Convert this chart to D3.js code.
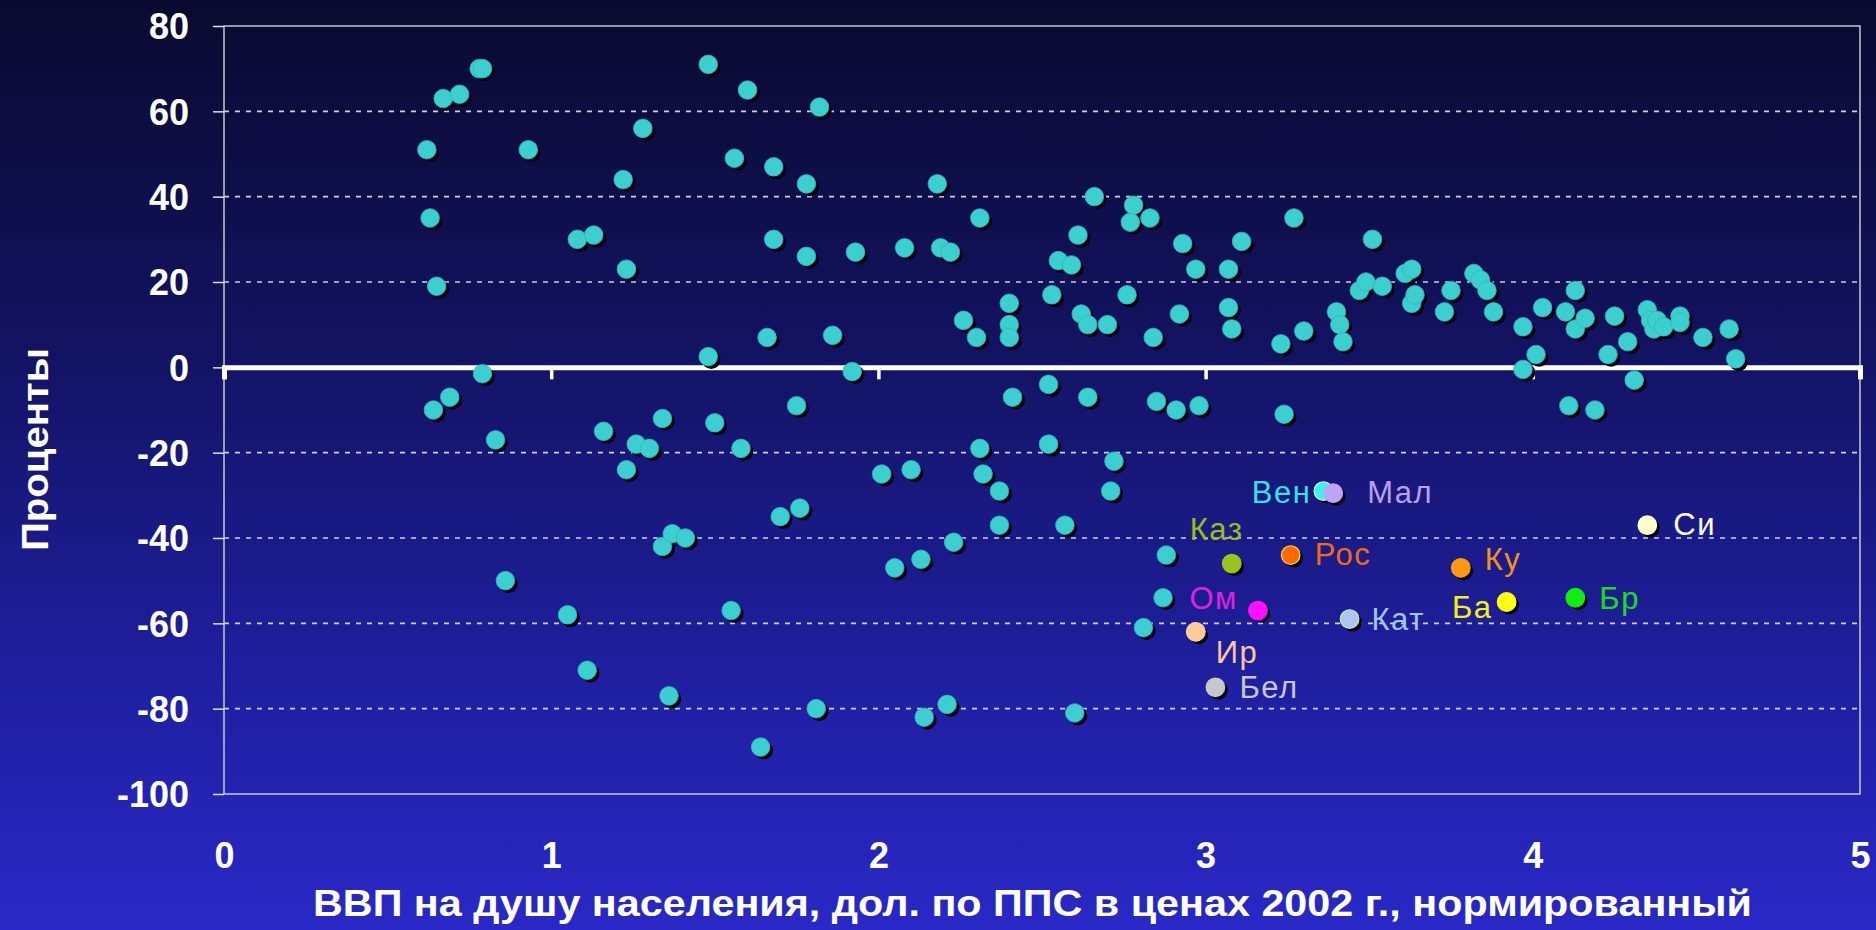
<!DOCTYPE html>
<html><head><meta charset="utf-8">
<script src="https://cdn.jsdelivr.net/npm/d3@7"></script>
<style>html,body{margin:0;padding:0;background:#0a0a33;overflow:hidden}</style>
</head><body>
<svg id="chart" width="1876" height="930"></svg>
<script>
// ---- data ----
const gdpX = [0.62,0.63,0.65,0.67,0.72,0.78,0.79,0.64,0.69,0.79,0.83,0.86,0.93,1.05,1.08,1.13,1.11,1.16,1.22,1.23,1.23,1.26,1.28,1.30,1.34,1.34,1.36,1.37,1.41,1.48,1.48,1.50,1.55,1.56,1.58,1.60,1.64,1.66,1.68,1.68,1.70,1.75,1.76,1.78,1.78,1.81,1.82,1.86,1.92,1.93,2.01,2.05,2.08,2.10,2.13,2.14,2.18,2.19,2.22,2.21,2.23,2.26,2.30,2.31,2.31,2.32,2.37,2.37,2.40,2.40,2.40,2.41,2.52,2.52,2.53,2.55,2.57,2.59,2.61,2.60,2.62,2.64,2.64,2.66,2.70,2.71,2.72,2.76,2.77,2.78,2.81,2.83,2.84,2.85,2.87,2.88,2.91,2.92,2.93,2.97,2.98,3.07,3.07,3.08,3.11,3.23,3.24,3.27,3.30,3.40,3.41,3.42,3.47,3.49,3.51,3.54,3.61,3.63,3.63,3.64,3.73,3.75,3.82,3.84,3.86,3.88,3.97,3.97,4.01,4.03,4.10,4.11,4.13,4.13,4.16,4.19,4.23,4.25,4.29,4.31,4.35,4.36,4.37,4.38,4.40,4.45,4.45,4.52,4.60,4.62];
const pctY = [51,35,19,63,64,70,70,-10,-7,-1.5,-17,-50,51,-58,30,31,-71,-15,44,23,-24,-18,56,-19,-12,-42,-77,-39,-40,71,2.5,-13,-57,49,-19,65,-89,7,47,30,-35,-9,-33,43,26,-80,61,7.5,-1,27,-25,-47,28,-24,-45,-82,43,28,27,-79,-41,11,7,35,-19,-25,-29,-37,15,10,7,-7,-4,-18,17,25,-37,24,31,-81,12.5,-7,10,40,10,-29,-22,17,34,38,-61,35,7,-8,-54,-44,-10,12.5,29,23,-9,14,23,9,29.5,5.5,-11,35,8.5,13,10,6,18,20,30,19,22,23,15,17,13,18,22,20.5,18,13,9.5,-0.5,3,14,13,-9,9,18,11.5,-10,3,12,6,-3,13.5,11,9,11,9.5,12,10.5,7,9,2];

const countryNames = ["Вен","Мал","Каз","Рос","Ом","Ир","Бел","Кат","Ку","Ба","Бр","Си"];
const countryX = [3.36,3.39,3.08,3.26,3.16,2.97,3.03,3.44,3.78,3.92,4.13,4.35];
const countryY = [-29,-29.5,-46,-44,-57,-62,-75,-59,-47,-55,-54,-37];

const xTicks = [0,1,2,3,4,5];
const yTicks = [80,60,40,20,0,-20,-40,-60,-80,-100];
const xTitle = "ВВП на душу населения, дол. по ППС в ценах 2002 г., нормированный";
const yTitle = "Проценты";

// ---- styles (not data) ----
const countryFill = ["#3ff0f0","#c0a4f4","#99c41c","#ff6a00","#ff10ff","#ffcc99","#c8c8c8","#a8c8f0","#ff9a10","#ffff10","#10ee10","#ffffd0"];
const countryStroke = ["#d0ffff","#c0a4f4","#99c41c","#ffd040","#ff10ff","#ffcc99","#c8c8c8","#c8f0a0","#ff9a10","#ffff10","#10ee10","#ffffd0"];
const labelColor = ["#33e4e4","#b8a0ec","#9cbc18","#f06a14","#e020e0","#f8c898","#c8c8c8","#a0c4ec","#f09418","#f4f010","#18e018","#ffffff"];
// label placement: [anchor, dx, dy]
const labelPlace = [["end",-12,12],["start",34,10],["start",-42,-24],["start",24,10],["end",-20,-2],["start",20,31],["start",24,11],["start",22,11],["start",24,2],["end",-14,16],["start",24,11],["start",26,10]];

// ---- chart ----
const W = 1876, H = 930;
const svg = d3.select("#chart");
const defs = svg.append("defs");
const grad = defs.append("linearGradient").attr("id","bg").attr("x1",0).attr("y1",0).attr("x2",0).attr("y2",1);
grad.append("stop").attr("offset","0%").attr("stop-color","#0a0a30");
grad.append("stop").attr("offset","35%").attr("stop-color","#12125e");
grad.append("stop").attr("offset","70%").attr("stop-color","#1e1e9c");
grad.append("stop").attr("offset","100%").attr("stop-color","#2a28c6");
svg.append("rect").attr("width",W).attr("height",H).attr("fill","url(#bg)");

const pL = 224, pR = 1860, pT = 26, pB = 794;
const x = d3.scaleLinear().domain([0,5]).range([pL,pR]);
const y = d3.scaleLinear().domain([-100,80]).range([pB,pT]);

// grid (dashed)
svg.append("g").selectAll("line").data(yTicks.filter(v => v!==80 && v!==0 && v!==-100)).join("line")
  .attr("x1",pL).attr("x2",pR).attr("y1",d=>y(d)).attr("y2",d=>y(d))
  .attr("stroke","#d0d0d8").attr("stroke-width",1.6).attr("stroke-dasharray","5,6");

// frame
svg.append("rect").attr("x",pL).attr("y",pT).attr("width",pR-pL).attr("height",pB-pT)
  .attr("fill","none").attr("stroke","#c8c8d0").attr("stroke-width",1.5);

// y axis
const yAxis = d3.axisLeft(y).tickValues(yTicks).tickSize(11).tickPadding(24).tickFormat(d => String(d));
const gy = svg.append("g").attr("transform",`translate(${pL},0)`).call(yAxis);
gy.select(".domain").remove();
gy.selectAll(".tick line").attr("stroke","#e0e0e0").attr("stroke-width",1.5);
gy.selectAll(".tick text").attr("fill","#ffffff").attr("font-family","'Liberation Sans Narrow','Liberation Sans',Arial,sans-serif")
  .attr("font-weight","bold").attr("font-size",36).attr("dy","0.36em");

// x axis labels (bottom)
const xAxis = d3.axisBottom(x).tickValues(xTicks).tickSize(0).tickPadding(0).tickFormat(d => String(d));
const gx = svg.append("g").attr("transform",`translate(0,${pB})`).call(xAxis);
gx.select(".domain").remove();
gx.selectAll(".tick text").attr("fill","#ffffff").attr("font-family","'Liberation Sans Narrow','Liberation Sans',Arial,sans-serif")
  .attr("font-weight","bold").attr("font-size",36).attr("y",74).attr("dy",0);

// zero line with ticks
const zeroAxis = d3.axisBottom(x).tickValues(xTicks).tickSize(12).tickFormat("");
const gz = svg.append("g").attr("transform",`translate(0,${y(0)})`).call(zeroAxis);
gz.select(".domain").attr("stroke","#ffffff").attr("stroke-width",5);
gz.selectAll(".tick line").attr("stroke","#ffffff").attr("stroke-width",3.5);

// titles
svg.append("text").attr("x",313).attr("y",916)
  .attr("textLength",1439).attr("lengthAdjust","spacingAndGlyphs")
  .attr("fill","#ffffff").attr("font-family","'Liberation Sans',Arial,sans-serif").attr("font-weight","bold")
  .attr("font-size",36).text(xTitle);
svg.append("text").attr("transform","translate(48,551) rotate(-90)")
  .attr("textLength",203).attr("lengthAdjust","spacingAndGlyphs")
  .attr("fill","#ffffff").attr("font-family","'Liberation Sans',Arial,sans-serif").attr("font-weight","bold")
  .attr("font-size",37).text(yTitle);

// points
const R = 9.3;
const pts = gdpX.map((v,i)=>({x:v,y:pctY[i]}));
const gp = svg.append("g");
gp.selectAll("circle.sh").data(pts).join("circle").attr("class","sh")
  .attr("cx",d=>x(d.x)+3).attr("cy",d=>y(d.y)+3).attr("r",R).attr("fill","#000010");
gp.selectAll("circle.pt").data(pts).join("circle").attr("class","pt")
  .attr("cx",d=>x(d.x)).attr("cy",d=>y(d.y)).attr("r",R).attr("fill","#3ccfcf").attr("stroke","#2fb8b8").attr("stroke-width",0.8);

// highlighted countries
const cs = countryNames.map((n,i)=>({n,x:countryX[i],y:countryY[i],i}));
const gc = svg.append("g");
gc.selectAll("circle.sh").data(cs).join("circle").attr("class","sh")
  .attr("cx",d=>x(d.x)+3).attr("cy",d=>y(d.y)+3).attr("r",R).attr("fill","#000010");
gc.selectAll("circle.pt").data(cs).join("circle").attr("class","pt")
  .attr("cx",d=>x(d.x)).attr("cy",d=>y(d.y)).attr("r",R)
  .attr("fill",d=>countryFill[d.i]).attr("stroke",d=>countryStroke[d.i]).attr("stroke-width",1.2);
gc.selectAll("text").data(cs).join("text")
  .attr("x",d=>x(d.x)+labelPlace[d.i][1]).attr("y",d=>y(d.y)+labelPlace[d.i][2])
  .attr("text-anchor",d=>labelPlace[d.i][0])
  .attr("fill",d=>labelColor[d.i]).attr("font-family","'Liberation Sans',Arial,sans-serif")
  .attr("font-size",31).attr("letter-spacing",1.5).text(d=>d.n);
</script>
</body></html>
